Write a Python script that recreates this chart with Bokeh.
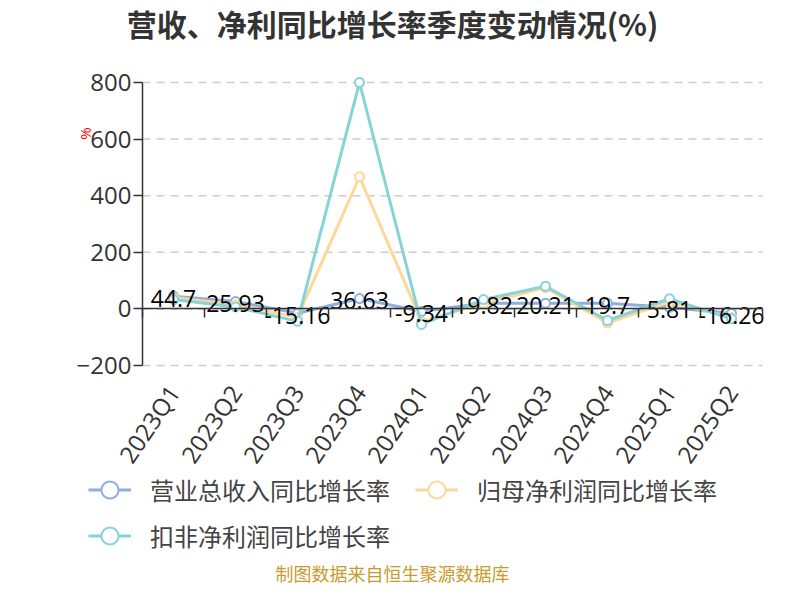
import numpy as np
from bokeh.plotting import figure
from bokeh.models import (Range1d, FixedTicker, Legend, LegendItem, Label, LinearAxis)
from bokeh.embed import file_html
from bokeh.resources import INLINE
from bokeh.core.properties import value

quarters = ["2023Q1", "2023Q2", "2023Q3", "2023Q4", "2024Q1",
            "2024Q2", "2024Q3", "2024Q4", "2025Q1", "2025Q2"]
revenue = [44.7, 25.93, -15.16, 36.63, -9.34, 19.82, 20.21, 19.7, 5.81, -16.26]
net_profit = [40, 15, -30, 467, -45, 20, 75, -50, 25, -30]
deducted = [33, 7, -44, 800, -55, 33, 80, -41, 36, -35]
y_ticks = [-200, 0, 200, 400, 600, 800]
series_names = ["营业总收入同比增长率", "归母净利润同比增长率", "扣非净利润同比增长率"]
colors = ["#8eaee2", "#ffd797", "#86d3d8"]
title_text = "营收、净利同比增长率季度变动情况(%)"
footer_text = "制图数据来自恒生聚源数据库"

CJK = "Noto Sans CJK SC"
NUM = "Open Sans"

W, H = 784, 584
# plot area inside the canvas (pixels)
PL, PR, PT, PB = 142, 762, 82, 365
n = len(quarters)
y_lo, y_hi = y_ticks[0], y_ticks[-1]
ppx = (PR - PL) / n                     # pixels per category
ppy = (PB - PT) / (y_hi - y_lo)         # pixels per unit

x_range = Range1d(-0.5 - PL / ppx, n - 0.5 + (W - PR) / ppx)
y_range = Range1d(y_lo - (H - PB) / ppy, y_hi + PT / ppy)

idx = list(range(n))

p = figure(width=W, height=H, x_range=x_range, y_range=y_range,
           output_backend="svg", toolbar_location=None,
           min_border=0, min_border_left=0, min_border_right=0,
           min_border_top=0, min_border_bottom=0)
p.outline_line_color = None
p.background_fill_color = "white"

# horizontal dashed grid lines, limited to the plot area
p.xgrid.visible = False
p.ygrid.visible = False
p.segment(x0=[-0.5] * len(y_ticks), x1=[n - 0.5] * len(y_ticks), y0=y_ticks, y1=y_ticks,
          line_color="#cccccc", line_dash="8 6", line_width=1.5, level="underlay")

# y axis (placed at the left edge of the plot area)
ya = p.yaxis[0]
ya.fixed_location = -0.5
ya.ticker = FixedTicker(ticks=y_ticks)
ya.bounds = (y_lo, y_hi)
ya.axis_line_color = "#333333"
ya.axis_line_width = 1.5
ya.major_tick_line_color = "#333333"
ya.major_tick_line_width = 1.5
ya.major_tick_out = 9
ya.major_tick_in = 0
ya.minor_tick_line_color = None
ya.major_label_standoff = 2
ya.major_label_text_font = NUM
ya.major_label_text_font_size = "24px"
ya.major_label_text_color = "#333333"

# x axis labels (at the bottom of the plot area)
xa = p.xaxis[0]
xa.fixed_location = y_lo
xa.ticker = FixedTicker(ticks=idx)
xa.major_label_overrides = {i: q for i, q in zip(idx, quarters)}
xa.axis_line_color = None
xa.major_tick_line_color = None
xa.minor_tick_line_color = None
xa.major_label_orientation = np.deg2rad(56)
xa.major_label_standoff = 16
xa.major_label_text_font = NUM
xa.major_label_text_font_size = "24px"
xa.major_label_text_color = "#333333"

# x axis line at zero with ticks on category boundaries
bounds = [i - 0.5 for i in range(n + 1)]
zx = LinearAxis(fixed_location=0, ticker=FixedTicker(ticks=bounds),
                bounds=(-0.5, n - 0.5),
                major_label_overrides={b: "" for b in bounds},
                axis_line_color="#333333", axis_line_width=1.5,
                major_tick_line_color="#333333", major_tick_line_width=1.5,
                major_tick_out=9, major_tick_in=0, minor_tick_line_color=None)
p.add_layout(zx, "below")

items = []
for name, vals, col in zip(series_names, [revenue, net_profit, deducted], colors):
    lr = p.line(idx, vals, line_color=col, line_width=3)
    sr = p.scatter(idx, vals, size=9, marker="circle", fill_color="white",
                   line_color=col, line_width=2)
    items.append(LegendItem(label=name, renderers=[lr, sr]))

p.text(x=idx, y=revenue, text=[str(v) for v in revenue],
       text_align="center", text_baseline="middle", y_offset=2,
       text_font=value(NUM), text_font_size="23px", text_color="#000000")

legend = Legend(items=items, location=(88, 27), orientation="horizontal", ncols=2)
legend.glyph_width = 43
legend.glyph_height = 43
legend.label_height = 43
legend.label_width = 262
legend.label_standoff = 19
legend.spacing = 3
legend.padding = 0
legend.margin = 0
legend.border_line_color = None
legend.background_fill_alpha = 0
legend.label_text_font = CJK
legend.label_text_font_size = "24px"
legend.label_text_color = "#444444"
p.add_layout(legend, "center")

p.add_layout(Label(x=392, y=H - 22, x_units="screen", y_units="screen", text=title_text,
                   text_align="center", text_baseline="middle",
                   text_font=CJK, text_font_size="30px", text_font_style="bold",
                   text_color="#333333"))
p.add_layout(Label(x=84, y=H - 133, x_units="screen", y_units="screen", text="%",
                   angle=np.pi / 2, text_align="center", text_baseline="middle",
                   text_font=NUM, text_font_size="15px", text_color="#ff0000"))
p.add_layout(Label(x=392, y=12, x_units="screen", y_units="screen", text=footer_text,
                   text_align="center", text_baseline="middle",
                   text_font=CJK, text_font_size="18px", text_color="#c99a2e"))

open("out.html", "w").write(file_html(p, INLINE))
